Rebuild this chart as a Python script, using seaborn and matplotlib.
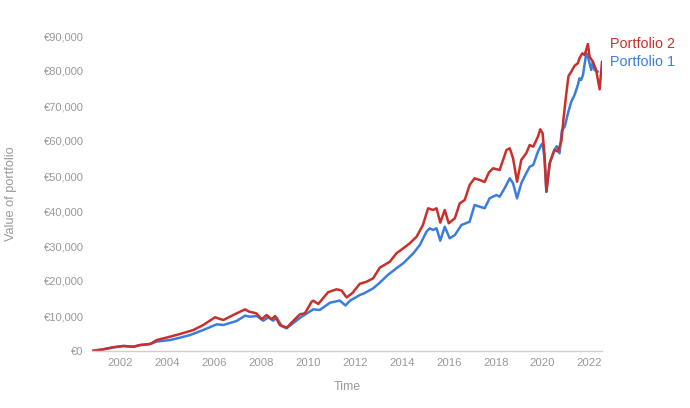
import numpy as np
import pandas as pd
import matplotlib
matplotlib.use("Agg")
import matplotlib.pyplot as plt
import seaborn as sns

# ---- data ----
p2_time = [2000.8, 2001.29, 2001.71, 2002.14, 2002.57, 2002.85, 2003.28, 2003.56, 2004.13, 2004.55,
           2005.12, 2005.54, 2006.04, 2006.26, 2006.4, 2006.82, 2007.32, 2007.5, 2007.8, 2008.03,
           2008.24, 2008.45, 2008.6, 2008.8, 2009.1, 2009.3, 2009.66, 2009.87, 2010.16, 2010.23,
           2010.44, 2010.86, 2011.22, 2011.43, 2011.65, 2011.9, 2012.21, 2012.5, 2012.78, 2013.06,
           2013.49, 2013.77, 2014.06, 2014.34, 2014.63, 2014.9, 2015.12, 2015.33, 2015.48, 2015.64,
           2015.83, 2016.0, 2016.26, 2016.47, 2016.68, 2016.89, 2017.1, 2017.32, 2017.53, 2017.71,
           2017.89, 2018.17, 2018.46, 2018.6, 2018.74, 2018.91, 2019.09, 2019.3, 2019.45, 2019.6,
           2019.8, 2019.9, 2020.0, 2020.08, 2020.16, 2020.3, 2020.5, 2020.65, 2020.8, 2020.9,
           2021.0, 2021.1, 2021.22, 2021.36, 2021.5, 2021.57, 2021.69, 2021.79, 2021.93, 2022.0,
           2022.14, 2022.28, 2022.43, 2022.53]
p2_value = [0, 490, 1060, 1430, 1230, 1700, 2000, 3140, 4090, 4860,
            6000, 7430, 9630, 9140, 8860, 10290, 11900, 11230, 10770, 9060,
            10290, 9060, 10000, 7430, 6660, 8090, 10490, 10770, 14090, 14370,
            13430, 16800, 17630, 17300, 15300, 16600, 19200, 19800, 20770, 23800,
            25510, 27910, 29340, 30770, 32660, 36000, 40770, 40290, 40770, 36660,
            40290, 36490, 37910, 42200, 43140, 47430, 49340, 48860, 48300, 51000,
            52200, 51710, 57430, 57910, 55060, 48370, 54570, 56490, 58860, 58370,
            61230, 63340, 62200, 56000, 45500, 53630, 57430, 57000, 60000, 67000,
            73000, 78500, 79800, 81500, 82200, 83630, 85060, 84570, 87710, 84090,
            82660, 80290, 74770, 82660]

p1_time = [2000.8, 2001.29, 2001.71, 2002.14, 2002.57, 2002.85, 2003.28, 2003.56, 2004.13, 2004.55,
           2004.98, 2005.54, 2006.11, 2006.4, 2006.96, 2007.32, 2007.53, 2007.82, 2008.1, 2008.31,
           2008.52, 2008.67, 2008.88, 2009.09, 2009.45, 2009.73, 2010.23, 2010.5, 2010.94, 2011.36,
           2011.6, 2011.79, 2012.21, 2012.4, 2012.78, 2013.06, 2013.4, 2013.77, 2014.06, 2014.49,
           2014.77, 2015.05, 2015.19, 2015.33, 2015.48, 2015.64, 2015.83, 2016.04, 2016.26, 2016.54,
           2016.89, 2017.1, 2017.32, 2017.53, 2017.74, 2018.03, 2018.17, 2018.38, 2018.6, 2018.74,
           2018.91, 2019.09, 2019.3, 2019.45, 2019.6, 2019.8, 2019.94, 2020.0, 2020.08, 2020.16,
           2020.3, 2020.5, 2020.6, 2020.72, 2020.82, 2020.94, 2021.08, 2021.22, 2021.36, 2021.5,
           2021.57, 2021.64, 2021.72, 2021.86, 2021.93, 2022.07, 2022.14, 2022.21, 2022.36]
p1_value = [0, 490, 1060, 1430, 1230, 1700, 2000, 2700, 3140, 3800,
            4570, 6000, 7620, 7430, 8570, 10090, 9800, 10000, 8660, 9630,
            8660, 9510, 7140, 6490, 8370, 9800, 11910, 11710, 13800, 14400,
            13000, 14370, 16000, 16500, 17910, 19500, 21700, 23630, 25060, 27910,
            30290, 34090, 35060, 34570, 35060, 31510, 35510, 32200, 33140, 36000,
            36940, 41710, 41230, 40770, 43630, 44570, 44090, 46490, 49340, 47910,
            43630, 47910, 50770, 52660, 53140, 56940, 58860, 59340, 55000, 45500,
            53630, 57430, 58500, 56500, 63000, 64090, 67910, 71230, 73140, 76000,
            77910, 77430, 78860, 85060, 84090, 80290, 82660, 80290, 79800]

series_names = ["Portfolio 1", "Portfolio 2"]
series_colors = ["#3b7ddd", "#c9302c"]
y_ticks = [0, 10000, 20000, 30000, 40000, 50000, 60000, 70000, 80000, 90000]
x_ticks = [2002, 2004, 2006, 2008, 2010, 2012, 2014, 2016, 2018, 2020, 2022]

df = pd.concat([
    pd.DataFrame({"Time": p1_time, "Value": p1_value, "Series": series_names[0]}),
    pd.DataFrame({"Time": p2_time, "Value": p2_value, "Series": series_names[1]}),
], ignore_index=True)

sns.set_style("white")
plt.rcParams["font.family"] = ["Liberation Sans", "DejaVu Sans"]

W, H = 690, 408
fig = plt.figure(figsize=(W / 100, H / 100), dpi=100)
L, R, T, B = 92, 602, 36, 351
ax = fig.add_axes([L / W, 1 - B / H, (R - L) / W, (B - T) / H])

sns.lineplot(data=df, x="Time", y="Value", hue="Series", hue_order=series_names,
             palette=dict(zip(series_names, series_colors)), estimator=None, sort=False,
             linewidth=1.8, legend=False, ax=ax)

ax.set_xlim(2000.8, 2022.53)
ax.set_ylim(0, 90000)
ax.set_xticks(x_ticks)
ax.set_xticklabels([str(t) for t in x_ticks])
ax.set_yticks(y_ticks)
ax.set_yticklabels(["€0" if v == 0 else f"€{v:,}" for v in y_ticks])

gray = "#999999"
for s in ["top", "right", "left"]:
    ax.spines[s].set_visible(False)
ax.spines["bottom"].set_color("#d0d0d0")
ax.spines["bottom"].set_linewidth(1.0)
ax.tick_params(axis="x", length=0, pad=5, labelsize=8.2, labelcolor=gray)
ax.tick_params(axis="y", length=3.5, width=0.8, color="#dddddd", pad=2.5,
               labelsize=8, labelcolor=gray)
ax.grid(False)

ax.set_xlabel("Time", fontsize=9, color=gray)
ax.xaxis.set_label_coords(0.5, -0.095)
ax.set_ylabel("Value of portfolio", fontsize=9.2, color=gray)
ax.yaxis.set_label_coords(-0.148, 0.5)

ax.text(1.0157, 0.9746, "Portfolio 2", transform=ax.transAxes, ha="left", va="center",
        fontsize=10.4, color=series_colors[1], clip_on=False)
ax.text(1.0157, 0.9175, "Portfolio 1", transform=ax.transAxes, ha="left", va="center",
        fontsize=10.4, color=series_colors[0], clip_on=False)

fig.savefig("out.png", dpi=100)
